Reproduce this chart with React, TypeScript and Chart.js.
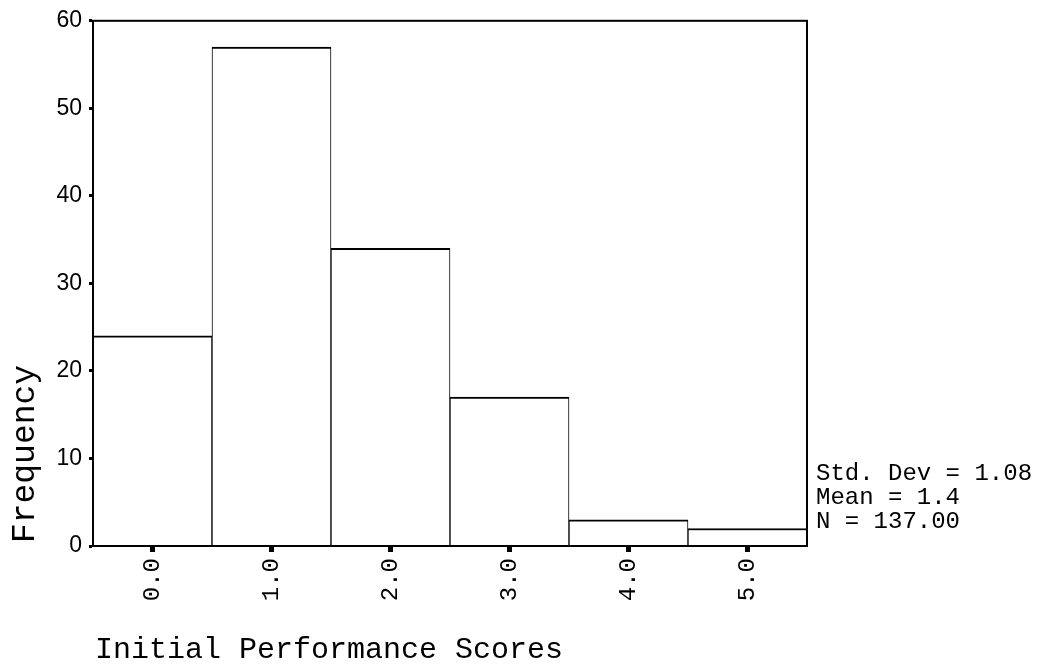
import React, { useEffect, useRef } from "react";
import { Chart, registerables } from "chart.js";

Chart.register(...registerables);

const categories = ["0.0", "1.0", "2.0", "3.0", "4.0", "5.0"];
const frequencies = [24, 57, 34, 17, 3, 2];
const yTicks = [0, 10, 20, 30, 40, 50, 60];
const yTitle = "Frequency";
const xTitle = "Initial Performance Scores";
const statsLines = ["Std. Dev = 1.08", "Mean = 1.4", "N = 137.00"];

const MONO = "'Liberation Mono', 'Courier New', monospace";
const SANS = "'Liberation Sans', Arial, sans-serif";

const framePlugin = {
  id: "frameAndTexts",
  afterDraw(chart: any) {
    const { ctx, chartArea } = chart;
    ctx.save();
    ctx.strokeStyle = "#000";
    ctx.lineWidth = 2;
    ctx.strokeRect(chartArea.left, chartArea.top, chartArea.right - chartArea.left, chartArea.bottom - chartArea.top);

    ctx.fillStyle = "#000";
    // y title
    ctx.save();
    ctx.font = `33px ${MONO}`;
    ctx.textAlign = "center";
    ctx.textBaseline = "alphabetic";
    ctx.translate(34, 454);
    ctx.rotate(-Math.PI / 2);
    ctx.fillText(yTitle, 0, 0);
    ctx.restore();

    // x title
    ctx.font = `30px ${MONO}`;
    ctx.textAlign = "left";
    ctx.textBaseline = "alphabetic";
    ctx.fillText(xTitle, 95, 658);

    // stats
    ctx.font = `24px ${MONO}`;
    statsLines.forEach((line, i) => {
      ctx.fillText(line, chartArea.right + 9, 480 + i * 24);
    });
    ctx.restore();
  },
};

export default function App() {
  const canvasRef = useRef<HTMLCanvasElement | null>(null);

  useEffect(() => {
    if (!canvasRef.current) return;
    const chart = new Chart(canvasRef.current, {
      type: "bar",
      data: {
        labels: categories,
        datasets: [
          {
            data: frequencies,
            backgroundColor: "#ffffff",
            borderColor: "#000000",
            borderWidth: { top: 2, left: 1, right: 1, bottom: 0 } as any,
            borderSkipped: false as any,
            barPercentage: 1,
            categoryPercentage: 1,
          },
        ],
      },
      options: {
        animation: false,
        responsive: true,
        maintainAspectRatio: false,
        layout: { padding: { left: 0, right: 231, top: 19, bottom: 0 } },
        plugins: {
          legend: { display: false },
          tooltip: { enabled: false },
          title: { display: false },
        },
        scales: {
          x: {
            type: "category",
            offset: true,
            afterFit: (scale: any) => {
              scale.height = 118;
            },
            grid: {
              offset: false,
              drawOnChartArea: false,
              drawTicks: true,
              tickLength: 6,
              tickWidth: 5,
              tickColor: "#000",
            } as any,
            border: { display: true, color: "#000", width: 2 },
            ticks: {
              color: "#000",
              minRotation: 90,
              maxRotation: 90,
              padding: 6,
              font: { family: MONO, size: 24 },
            },
          },
          y: {
            min: 0,
            max: 60,
            afterFit: (scale: any) => {
              scale.width = 93;
            },
            afterBuildTicks: (scale: any) => {
              scale.ticks = yTicks.map((v) => ({ value: v }));
            },
            grid: {
              drawOnChartArea: false,
              drawTicks: true,
              tickLength: 4,
              tickWidth: 3,
              tickColor: "#000",
            } as any,
            border: { display: true, color: "#000", width: 2 },
            ticks: {
              color: "#000",
              padding: 7,
              font: { family: SANS, size: 23 },
            },
          },
        },
      },
      plugins: [framePlugin],
    });
    return () => chart.destroy();
  }, []);

  return (
    <div style={{ position: "absolute", left: 0, top: 0, width: 1038, height: 664, background: "#fff" }}>
      <canvas ref={canvasRef} />
    </div>
  );
}
